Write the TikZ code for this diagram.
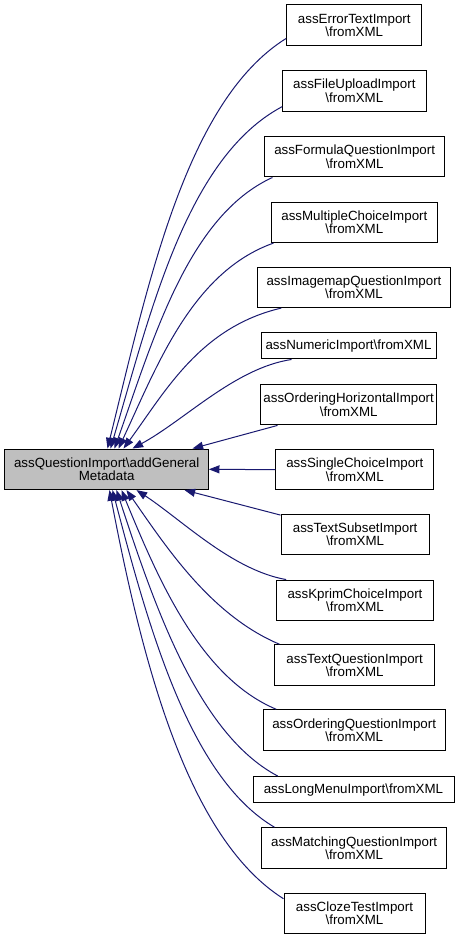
\documentclass[tikz,border=0pt]{standalone}
\usepackage{fontspec}
\setmainfont{Liberation Sans}
\usetikzlibrary{arrows.meta,calc}
\definecolor{edgec}{HTML}{191970}
\definecolor{mainfill}{HTML}{BFBFBF}
\newcommand{\bs}{\textbackslash{}}
\begin{document}
\begin{tikzpicture}[x=0.75pt,y=-0.75pt,
 box/.style={draw=black, line width=0.75pt, fill=white, inner sep=0pt, align=center,
   font=\fontsize{10pt}{10pt}\selectfont, minimum height=30.4pt},
 onebox/.style={box, minimum height=19.7pt},
 mainbox/.style={box, fill=mainfill},
 conn/.style={draw=edgec, line width=0.75pt, -{Triangle[length=8pt,width=6pt]}}]
\useasboundingbox (0,0) rectangle (459,940);

\node[mainbox, minimum width=152.5pt] (main) at (106.65,469.3) {assQuestionImport\bs addGeneral\\Metadata};

\node[box, minimum width=101.6pt] (n0) at (354.25,25.25) {assErrorTextImport\\\bs fromXML};
\node[box, minimum width=107.5pt] (n1) at (354.35,90.85) {assFileUploadImport\\\bs fromXML};
\node[box, minimum width=134.5pt] (n2) at (354.65,156.7) {assFormulaQuestionImport\\\bs fromXML};
\node[box, minimum width=125pt] (n3) at (354.35,222.3) {assMultipleChoiceImport\\\bs fromXML};
\node[box, minimum width=145pt] (n4) at (354,287.3) {assImagemapQuestionImport\\\bs fromXML};
\node[onebox, minimum width=131.25pt] (n5) at (348.5,345.85) {assNumericImport\bs fromXML};
\node[box, minimum width=132pt] (n6) at (348.7,404.65) {assOrderingHorizontalImport\\\bs fromXML};
\node[box, minimum width=118.3pt] (n7) at (354.85,469.65) {assSingleChoiceImport\\\bs fromXML};
\node[box, minimum width=111.2pt] (n8) at (355.15,534.35) {assTextSubsetImport\\\bs fromXML};
\node[box, minimum width=117.5pt] (n9) at (355,600.35) {assKprimChoiceImport\\\bs fromXML};
\node[box, minimum width=119.5pt] (n10) at (354.65,665) {assTextQuestionImport\\\bs fromXML};
\node[box, minimum width=136.3pt] (n11) at (354.15,730) {assOrderingQuestionImport\\\bs fromXML};
\node[onebox, minimum width=150.75pt] (n12) at (353.5,789.7) {assLongMenuImport\bs fromXML};
\node[box, minimum width=138.75pt] (n13) at (354.2,848) {assMatchingQuestionImport\\\bs fromXML};
\node[box, minimum width=105.75pt] (n14) at (354.5,913.5) {assClozeTestImport\\\bs fromXML};

% upper edges
\draw[conn] ($(n0.south west)+(0,-7.5)$) .. controls (186,101) and (148,284) .. ($(main.north west)+(103,0)$);
\draw[conn] ($(n1.south west)+(0,-5)$) .. controls (186.7,157.5) and (150.6,311.8) .. ($(main.north west)+(106,0)$);
\draw[conn] ($(n2.south west)+(8,0)$) .. controls (188,216) and (153,340) .. ($(main.north west)+(110,0)$);
\draw[conn] ($(n3.south west)+(3,0)$) .. controls (192,272) and (157,366) .. ($(main.north west)+(114,0)$);
\draw[conn] ($(n4.south west)+(24.5,0)$) .. controls (200,327) and (165,392) .. ($(main.north west)+(119,0)$);
\draw[conn] ($(n5.south west)+(31,0)$) .. controls (235,368) and (185,420) .. ($(main.north west)+(128,0)$);
\draw[conn] ($(n6.south west)+(17.3,0)$) -- ($(main.north west)+(188,0)$);
% middle edge
\draw[conn] (n7.west) -- (main.east);
% lower edges
\draw[conn] ($(n8.north west)+(0,1.5)$) -- ($(main.south west)+(180,0)$);
\draw[conn] ($(n9.north west)+(10,0)$) .. controls (232,570) and (182,520) .. ($(main.south west)+(132,0)$);
\draw[conn] ($(n10.north west)+(5,0)$) .. controls (210,615) and (165,545) .. ($(main.south west)+(122,0)$);
\draw[conn] ($(n11.north west)+(13.4,0)$) .. controls (199.4,677) and (157.6,577.7) .. ($(main.south west)+(117,0)$);
\draw[conn] ($(n12.north west)+(25.3,0)$) .. controls (197.8,734) and (154,604.5) .. ($(main.south west)+(112,0)$);
\draw[conn] ($(n13.north west)+(13.3,0)$) .. controls (189,777) and (148,625) .. ($(main.south west)+(108,0)$);
\draw[conn] ($(n14.north west)+(0,6)$) .. controls (186.6,837.6) and (142,660) .. ($(main.south west)+(105,0)$);
\end{tikzpicture}
\end{document}
